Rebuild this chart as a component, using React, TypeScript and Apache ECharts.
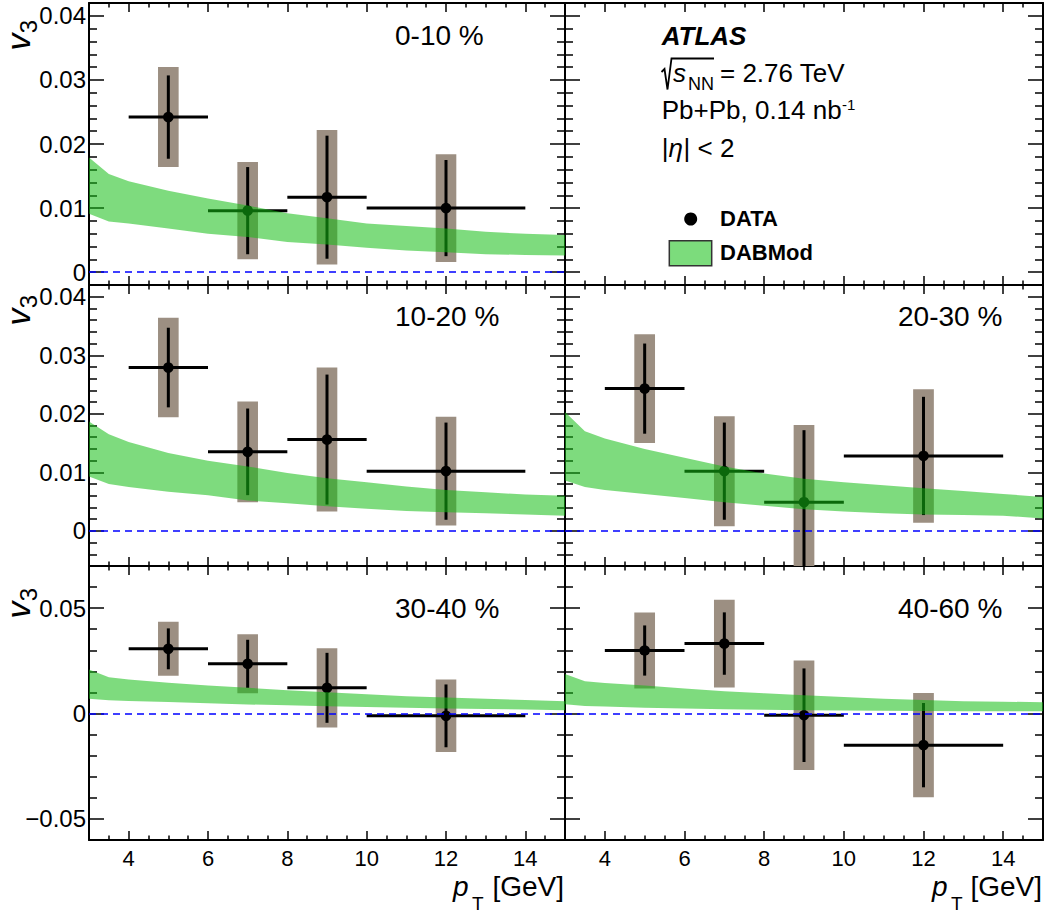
import React, { useEffect, useRef } from 'react';
import * as echarts from 'echarts';

// ---------------- data ----------------
const ptCenters = [5, 7, 9, 12];
const ptBinLow = [4, 6, 8, 10];
const ptBinHigh = [6, 8, 10, 14];
const bandPt = [3, 3.5, 4, 5, 6, 7, 8, 9, 10, 11, 12, 13, 14, 15];

const xTickValues = [4, 6, 8, 10, 12, 14];
const yTickValuesTop = [0, 0.01, 0.02, 0.03, 0.04];
const yTickValuesBottom = [-0.05, 0, 0.05];

const v3_0_10 = [0.0242, 0.0096, 0.0117, 0.01];
const stat_0_10 = [0.0065, 0.0068, 0.0096, 0.0075];
const syst_0_10 = [0.0078, 0.0076, 0.0105, 0.0084];
const bandLo_0_10 = [0.0091, 0.0079, 0.0076, 0.0068, 0.006, 0.0055, 0.0047, 0.0043, 0.0038, 0.0034, 0.0031, 0.0028, 0.0027, 0.0026];
const bandHi_0_10 = [0.0179, 0.0153, 0.0142, 0.0127, 0.0115, 0.0104, 0.0092, 0.0084, 0.0076, 0.0072, 0.0068, 0.0063, 0.006, 0.0058];

const v3_10_20 = [0.0279, 0.0135, 0.0156, 0.0102];
const stat_10_20 = [0.0068, 0.0074, 0.0111, 0.0083];
const syst_10_20 = [0.0085, 0.0086, 0.0123, 0.0093];
const bandLo_10_20 = [0.0093, 0.008, 0.0075, 0.0067, 0.0061, 0.0052, 0.0047, 0.0042, 0.0038, 0.0034, 0.0032, 0.003, 0.0028, 0.0026];
const bandHi_10_20 = [0.0187, 0.0165, 0.0152, 0.0133, 0.012, 0.011, 0.0099, 0.009, 0.0083, 0.0076, 0.007, 0.0066, 0.0062, 0.006];

const v3_20_30 = [0.0243, 0.0102, 0.0049, 0.0128];
const stat_20_30 = [0.0077, 0.0083, 0.0123, 0.0101];
const syst_20_30 = [0.0093, 0.0094, 0.0132, 0.0114];
const bandLo_20_30 = [0.0086, 0.0075, 0.007, 0.0063, 0.0056, 0.0049, 0.0043, 0.0037, 0.0033, 0.003, 0.0028, 0.0027, 0.0026, 0.0021];
const bandHi_20_30 = [0.0203, 0.017, 0.0158, 0.014, 0.0125, 0.011, 0.0098, 0.0089, 0.0083, 0.0078, 0.0073, 0.0068, 0.0063, 0.0058];

const v3_30_40 = [0.0307, 0.0236, 0.0122, -0.0011];
const stat_30_40 = [0.0097, 0.0114, 0.0166, 0.0149];
const syst_30_40 = [0.0128, 0.014, 0.0188, 0.0172];
const bandLo_30_40 = [0.007, 0.0063, 0.006, 0.0055, 0.0049, 0.0043, 0.0039, 0.0035, 0.0031, 0.0027, 0.0024, 0.0022, 0.0019, 0.0016];
const bandHi_30_40 = [0.0209, 0.0172, 0.0162, 0.0146, 0.0133, 0.0122, 0.0111, 0.0101, 0.0091, 0.0082, 0.0076, 0.007, 0.0064, 0.0058];

const v3_40_60 = [0.0299, 0.0332, -0.0008, -0.015];
const stat_40_60 = [0.0119, 0.0148, 0.0222, 0.02];
const syst_40_60 = [0.018, 0.0208, 0.026, 0.0247];
const bandLo_40_60 = [0.0044, 0.0036, 0.0033, 0.0028, 0.0024, 0.002, 0.0018, 0.0016, 0.0015, 0.0013, 0.0012, 0.0011, 0.0011, 0.0011];
const bandHi_40_60 = [0.0188, 0.0153, 0.0145, 0.0133, 0.0119, 0.0106, 0.0096, 0.0087, 0.0078, 0.007, 0.0064, 0.0058, 0.0056, 0.0054];

const panels = [
  { grid: 0, label: '0-10 %', v3: v3_0_10, stat: stat_0_10, syst: syst_0_10, lo: bandLo_0_10, hi: bandHi_0_10 },
  { grid: 2, label: '10-20 %', v3: v3_10_20, stat: stat_10_20, syst: syst_10_20, lo: bandLo_10_20, hi: bandHi_10_20 },
  { grid: 3, label: '20-30 %', v3: v3_20_30, stat: stat_20_30, syst: syst_20_30, lo: bandLo_20_30, hi: bandHi_20_30 },
  { grid: 4, label: '30-40 %', v3: v3_30_40, stat: stat_30_40, syst: syst_30_40, lo: bandLo_30_40, hi: bandHi_30_40 },
  { grid: 5, label: '40-60 %', v3: v3_40_60, stat: stat_40_60, syst: syst_40_60, lo: bandLo_40_60, hi: bandHi_40_60 },
];

// ---------------- layout / style ----------------
const FONT = "'Liberation Sans', Arial, Helvetica, sans-serif";
const GRIDS = [
  { left: 89, top: 3, width: 476, height: 282 },
  { left: 565, top: 3, width: 478, height: 282 },
  { left: 89, top: 285, width: 476, height: 281 },
  { left: 565, top: 285, width: 478, height: 281 },
  { left: 89, top: 566, width: 476, height: 274 },
  { left: 565, top: 566, width: 478, height: 274 },
];
const X_RANGE = [3, 15];
const Y_RANGES = [
  [-0.002, 0.042], [-0.002, 0.042],
  [-0.006, 0.042], [-0.006, 0.042],
  [-0.06, 0.07], [-0.06, 0.07],
];
const Y_MAJOR = [0.01, 0.01, 0.01, 0.01, 0.05, 0.05];
const LABEL_POS: Record<number, number[]> = { 0: [395, 35], 2: [395, 316], 3: [898, 316], 4: [395, 608], 5: [898, 608] };
const BOX_HALF = 0.26;
const BAND_COLOR = 'rgba(20,190,20,0.55)';
const SYST_COLOR = '#9c8f82';

function fmtY(v: number) {
  if (Math.abs(v) < 1e-9) return '0';
  return (v < 0 ? '\u2212' : '') + Math.abs(v).toFixed(2);
}

function txt(x: number, y: number, text: string, size: number, opts: any = {}) {
  return {
    type: 'text',
    x,
    y,
    silent: true,
    style: {
      text,
      fill: '#000',
      fontSize: size,
      fontFamily: FONT,
      fontStyle: opts.italic ? 'italic' : 'normal',
      fontWeight: opts.bold ? 'bold' : 'normal',
      align: opts.align || 'left',
      textAlign: opts.align || 'left',
      verticalAlign: 'middle',
      textVerticalAlign: 'middle',
    },
  };
}

function buildOption() {
  const xAxes: any[] = [];
  const yAxes: any[] = [];
  GRIDS.forEach((_, g) => {
    const row = Math.floor(g / 2);
    const bottomRow = row === 2;
    const leftCol = g % 2 === 0;
    const yTicks = row === 2 ? yTickValuesBottom : yTickValuesTop;
    const mkX = (position: string, labels: boolean) => ({
      type: 'value', gridIndex: g, position, min: X_RANGE[0], max: X_RANGE[1],
      splitNumber: 6, minInterval: 2, maxInterval: 2,
      axisLine: { show: true, onZero: false, lineStyle: { color: '#000', width: 2 } },
      axisTick: { show: true, inside: true, length: 9, customValues: xTickValues, lineStyle: { color: '#000', width: 1.5 } },
      minorTick: { show: true, splitNumber: 4, length: 4.5, lineStyle: { color: '#000', width: 1.5 } },
      splitLine: { show: false }, minorSplitLine: { show: false },
      axisLabel: { show: labels, customValues: xTickValues, color: '#000', fontSize: 22, fontFamily: FONT, margin: 7 },
      axisPointer: { show: false },
    });
    const mkY = (position: string, labels: boolean) => ({
      type: 'value', gridIndex: g, position, min: Y_RANGES[g][0], max: Y_RANGES[g][1],
      splitNumber: row === 2 ? 3 : 4, minInterval: Y_MAJOR[g], maxInterval: Y_MAJOR[g],
      axisLine: { show: true, onZero: false, lineStyle: { color: '#000', width: 2 } },
      axisTick: { show: true, inside: true, length: 15, customValues: yTicks, lineStyle: { color: '#000', width: 1.5 } },
      minorTick: { show: true, splitNumber: 5, length: 8, lineStyle: { color: '#000', width: 1.5 } },
      splitLine: { show: false }, minorSplitLine: { show: false },
      axisLabel: { show: labels, customValues: yTicks, formatter: fmtY, color: '#000', fontSize: 24, fontFamily: FONT, margin: 3, showMinLabel: true, showMaxLabel: true },
      axisPointer: { show: false },
    });
    xAxes.push(mkX('bottom', bottomRow));
    xAxes.push(mkX('top', false));
    yAxes.push(mkY('left', leftCol));
    yAxes.push(mkY('right', false));
  });

  const series: any[] = [];
  panels.forEach((p) => {
    const axisIdx = { xAxisIndex: p.grid * 2, yAxisIndex: p.grid * 2 };
    const pts = ptCenters.map((x, i) => [x, p.v3[i], p.stat[i], p.syst[i], ptBinLow[i], ptBinHigh[i]]);
    series.push({
      type: 'custom', ...axisIdx, z: 2, silent: true,
      encode: { x: 0, y: 1 },
      data: pts,
      renderItem: (params: any, api: any) => {
        const x = api.value(0), y = api.value(1), s = api.value(3);
        const a = api.coord([x - BOX_HALF, y + s]);
        const b = api.coord([x + BOX_HALF, y - s]);
        const cs = params.coordSys;
        const top = Math.max(a[1], cs.y);
        const bot = Math.min(b[1], cs.y + cs.height);
        return { type: 'rect', shape: { x: a[0], y: top, width: b[0] - a[0], height: bot - top }, style: { fill: SYST_COLOR } };
      },
    });
    series.push({
      type: 'custom', ...axisIdx, z: 3, silent: true,
      encode: { x: 0, y: 1 },
      data: pts,
      renderItem: (params: any, api: any) => {
        const x = api.value(0), y = api.value(1), st = api.value(2);
        const c = api.coord([x, y]);
        const l = api.coord([api.value(4), y]);
        const r = api.coord([api.value(5), y]);
        const t = api.coord([x, y + st]);
        const b = api.coord([x, y - st]);
        const cs = params.coordSys;
        const ty = Math.max(t[1], cs.y);
        const by = Math.min(b[1], cs.y + cs.height);
        return {
          type: 'group',
          children: [
            { type: 'line', shape: { x1: l[0], y1: c[1], x2: r[0], y2: c[1] }, style: { stroke: '#000', lineWidth: 3 } },
            { type: 'line', shape: { x1: c[0], y1: ty, x2: c[0], y2: by }, style: { stroke: '#000', lineWidth: 3 } },
            { type: 'circle', shape: { cx: c[0], cy: c[1], r: 5.3 }, style: { fill: '#000' } },
          ],
        };
      },
    });
    series.push({
      type: 'line', ...axisIdx, z: 4, silent: true, data: [],
      markLine: {
        silent: true, symbol: ['none', 'none'], label: { show: false },
        lineStyle: { color: '#0000ff', type: [7, 5], width: 1.5 },
        data: [{ yAxis: 0 }],
      },
    });
    // model band: one polygon built from the band arrays via the axis scales
    const bandData = bandPt.map((x, i) => [x, p.lo[i], p.hi[i]]);
    series.push({
      type: 'custom', ...axisIdx, z: 5, silent: true,
      encode: { x: 0, y: [1, 2] },
      data: bandData,
      renderItem: (params: any, api: any) => {
        if (params.dataIndex !== 0) return null;
        const upper = bandData.map((d) => api.coord([d[0], d[2]]));
        const lower = bandData.map((d) => api.coord([d[0], d[1]])).reverse();
        return {
          type: 'polygon',
          shape: { points: upper.concat(lower) },
          style: { fill: BAND_COLOR },
        };
      },
    });
  });

  const graphics: any[] = [];
  // panel labels
  panels.forEach((p) => {
    const pos = LABEL_POS[p.grid];
    graphics.push(txt(pos[0], pos[1], p.label, 28));
  });
  // y titles (v_3)
  [20, 295, 588].forEach((oy) => {
    graphics.push({
      type: 'group', x: 0, y: oy, rotation: Math.PI / 2, silent: true,
      children: [
        txt(0, 28.6, '3', 24, { align: 'right' }),
        txt(-13.5, 18.1, 'v', 34, { align: 'right', italic: true }),
      ],
    });
  });
  // x titles (p_T [GeV])
  [[453, 472, 564], [932, 951, 1042]].forEach(([px, tx, gx]) => {
    graphics.push(txt(px, 886, 'p', 28, { italic: true }));
    graphics.push(txt(tx, 903.4, 'T', 19));
    graphics.push(txt(gx, 886.4, '[GeV]', 28, { align: 'right' }));
  });
  // ATLAS block
  graphics.push(txt(661.7, 35.8, 'ATLAS', 26, { bold: true, italic: true }));
  graphics.push({
    type: 'polyline', silent: true,
    shape: { points: [[661.5, 72], [664.5, 69], [667.5, 89.5], [671.5, 58.5], [714, 58.5]] },
    style: { stroke: '#000', lineWidth: 1.8, fill: 'none' },
  });
  graphics.push(txt(673, 72.6, 's', 26, { italic: true }));
  graphics.push(txt(688, 84.4, 'NN', 18));
  graphics.push(txt(720, 72.6, '= 2.76 TeV', 26));
  graphics.push(txt(661.7, 110.2, 'Pb+Pb, 0.14 nb', 26));
  graphics.push(txt(842, 104.4, '-1', 15));
  graphics.push(txt(661.7, 147.6, '|', 26));
  graphics.push(txt(668.5, 147.6, '\u03b7', 26, { italic: true }));
  graphics.push(txt(683.5, 147.6, '| < 2', 26));
  // legend
  graphics.push({ type: 'circle', silent: true, shape: { cx: 690.7, cy: 219, r: 6.5 }, style: { fill: '#000' } });
  graphics.push(txt(720, 218.5, 'DATA', 22, { bold: true }));
  graphics.push({
    type: 'rect', silent: true,
    shape: { x: 669.3, y: 240.7, width: 42.4, height: 25 },
    style: { fill: '#7cdc7c', stroke: '#333', lineWidth: 1.5 },
  });
  graphics.push(txt(720, 252.3, 'DABMod', 22, { bold: true }));

  return {
    animation: false,
    backgroundColor: '#fff',
    grid: GRIDS.map((g) => ({ ...g, show: false, containLabel: false, outerBoundsMode: 'none' })),
    xAxis: xAxes,
    yAxis: yAxes,
    series,
    graphic: { elements: graphics },
  };
}

export default function App() {
  const ref = useRef<HTMLDivElement>(null);
  useEffect(() => {
    if (!ref.current) return;
    const chart = echarts.init(ref.current, null, { renderer: 'svg' });
    chart.setOption(buildOption() as any);
    return () => chart.dispose();
  }, []);
  return (
    <div
      ref={ref}
      style={{ position: 'fixed', left: 0, top: 0, width: 1049, height: 915, background: '#fff' }}
    />
  );
}
